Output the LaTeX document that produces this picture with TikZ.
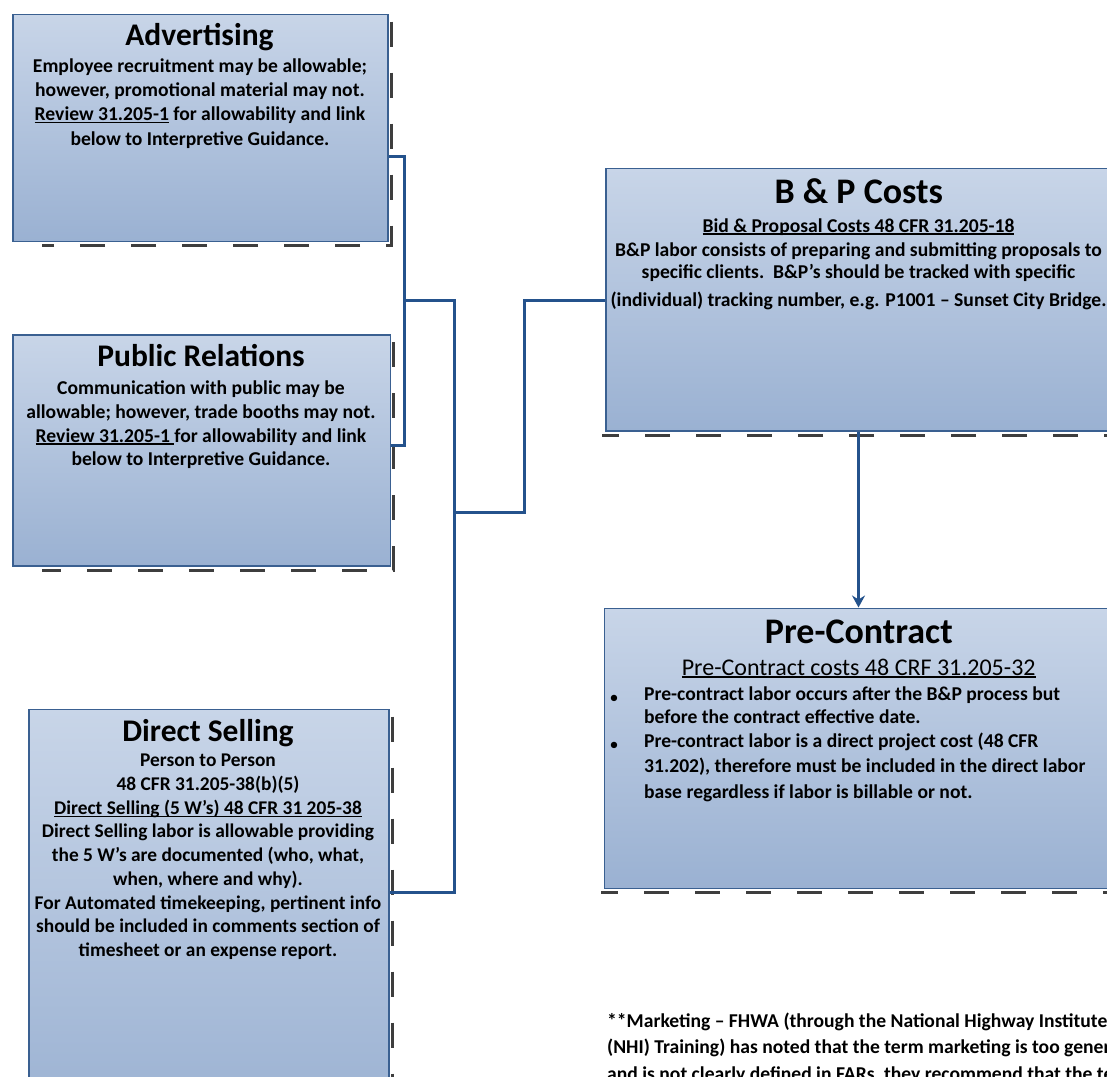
\documentclass[tikz,border=0pt]{standalone}
\usepackage{fontspec}
\setmainfont{Carlito}
\usetikzlibrary{arrows.meta}
\definecolor{boxtop}{RGB}{200,213,232}
\definecolor{boxbot}{RGB}{154,177,210}
\definecolor{boxline}{RGB}{58,96,145}
\definecolor{connblue}{RGB}{36,82,140}
\definecolor{shadowgray}{RGB}{62,62,62}
\newcommand{\undl}[1]{\setbox0\hbox{#1}\leavevmode\rlap{\rule[-2.6pt]{\wd0}{1.3pt}}\box0\relax}
\begin{document}
\begin{tikzpicture}[x=1pt,y=-1pt,
  boxnode/.style={draw=boxline, line width=1.5pt, top color=boxtop, bottom color=boxbot, inner sep=0pt, anchor=north west},
  shadowline/.style={draw=shadowgray, line width=3pt, dash pattern=on 25pt off 26pt},
  conn/.style={draw=connblue, line width=3pt},
  titleL/.style={font=\fontsize{31.5}{37}\selectfont\bfseries, inner sep=0pt, anchor=base},
  titleR/.style={font=\fontsize{36}{42}\selectfont\bfseries, inner sep=0pt, anchor=base},
  body/.style={font=\fontsize{19.6}{23.7}\selectfont\bfseries, align=center, inner sep=0pt, anchor=base},
  bodyL/.style={font=\fontsize{19.6}{23.7}\selectfont\bfseries, align=left, inner sep=0pt, anchor=base west},
]
\useasboundingbox (0,0) rectangle (1107,1076);
\clip (0,0) rectangle (1107,1076);

% boxes
\node[boxnode, minimum width=375pt, minimum height=227pt] (adv) at (12,13.5) {};
\node[boxnode, minimum width=377.5pt, minimum height=231pt] (pr) at (12,334) {};
\node[boxnode, minimum width=360pt, minimum height=420pt] (ds) at (28,708.5) {};
\node[boxnode, minimum width=520pt, minimum height=262.5pt] (bp) at (605,167.5) {};
\node[boxnode, minimum width=520pt, minimum height=280pt] (pc) at (603.5,607.5) {};

% shadows
\draw[shadowline] ([xshift=2.5pt,yshift=-8pt]adv.north east) -- ([xshift=2.5pt,yshift=-3.5pt]adv.south east) -- ([xshift=30pt,yshift=-3.5pt]adv.south west);
\draw[shadowline] ([xshift=2.5pt,yshift=-8pt]pr.north east) -- ([xshift=2.5pt,yshift=-3.5pt]pr.south east) -- ([xshift=30pt,yshift=-3.5pt]pr.south west);
\draw[shadowline] ([xshift=2.5pt,yshift=-8pt]ds.north east) -- ([xshift=2.5pt,yshift=-3.5pt]ds.south east);
\draw[shadowline] ([xshift=2.5pt,yshift=-3.5pt]bp.south east) -- ([xshift=-3pt,yshift=-3.5pt]bp.south west);
\draw[shadowline] ([xshift=2.5pt,yshift=-3.5pt]pc.south east) -- ([xshift=-3pt,yshift=-3.5pt]pc.south west);

% texts: Advertising (multi-line nodes are placed by the baseline of their last line)
\node[titleL] (advt) at (199.5,45) {Advertising};
\node[body, font=\fontsize{19.6}{24.3}\selectfont\bfseries] (advb) at (200,145) {Employee recruitment may be allowable;\\however, promotional material may not.\\\undl{Review 31.205-1} for allowability and link\\below to Interpretive Guidance.};

% Public Relations
\node[titleL] (prt) at (201,366.7) {Public Relations};
\node[body, font=\fontsize{19.6}{23.6}\selectfont\bfseries] (prb) at (201,465.7) {Communication with public may be\\allowable; however, trade booths may not.\\\undl{Review 31.205-1\ }for allowability and link\\below to Interpretive Guidance.};

% Direct Selling
\node[titleL] (dst) at (208,741.7) {Direct Selling};
\node[body, font=\fontsize{19.4}{23.75}\selectfont\bfseries] (dsb) at (208,956.7) {Person to Person\\48 CFR 31.205-38(b)(5)\\\undl{Direct Selling (5 W’s) 48 CFR 31 205-38}\\Direct Selling labor is allowable providing\\the 5 W’s are documented (who, what,\\when, where and why).\\For Automated timekeeping, pertinent info\\should be included in comments section of\\timesheet or an expense report.};

% B & P Costs
\node[titleR] (bpt) at (858.8,203) {B \& P Costs};
\node[body] (bpb) at (858.5,306.7) {\undl{Bid \& Proposal Costs 48 CFR 31.205-18}\\[0.3pt]B\&P labor consists of preparing and submitting proposals to\\[-1.7pt]specific clients.\ \ B\&P’s should be tracked with specific\\[5pt](individual) tracking number, e.g. P1001 – Sunset City Bridge.};

% Pre-Contract
\node[titleR] (pct) at (858.8,643) {Pre-Contract};
\node[inner sep=0pt, anchor=base, font=\fontsize{24}{29}\selectfont] (pcs) at (858.7,675) {\undl{Pre-Contract costs 48 CRF 31.205-32}};
\node[inner sep=0pt, anchor=base, font=\fontsize{18}{20}\selectfont] (pcd1) at (614,703) {•};
\node[inner sep=0pt, anchor=base, font=\fontsize{18}{20}\selectfont] (pcd2) at (614,750) {•};
\node[bodyL] (pcb) at (644,798) {Pre-contract labor occurs after the B\&P process but\\[-0.7pt]before the contract effective date.\\[0.3pt]Pre-contract labor is a direct project cost (48 CFR\\[1.3pt]31.202), therefore must be included in the direct labor\\[2.3pt]base regardless if labor is billable or not.};

% Marketing note
\node[bodyL, font=\fontsize{19.6}{26.5}\selectfont\bfseries] (mk) at (607,1080) {**Marketing – FHWA (through the National Highway Institute\\(NHI) Training) has noted that the term marketing is too general\\and is not clearly defined in FARs, they recommend that the term};

% connectors
\coordinate (ja) at (404.5,156.5);
\coordinate (jb) at (404.5,445);
\coordinate (jc) at (404.5,300);
\coordinate (jd) at (454.5,300);
\coordinate (je) at (454.5,892);
\coordinate (jf) at (454.5,512);
\coordinate (jg) at (524.5,512);
\coordinate (jh) at (524.5,300);
\coordinate (ax) at (858.5,0);
\draw[conn] (adv.east |- ja) -- (ja) -- (jb) -- (pr.east |- jb);
\draw[conn] (jc) -- (jd) -- (je) -- (ds.east |- je);
\draw[conn] (jf) -- (jg) -- (jh) -- (bp.west |- jh);
\draw[conn, line width=2.5pt, -{Stealth[length=12pt,width=13pt,inset=4pt]}] (bp.south -| ax) -- (pc.north -| ax);
\end{tikzpicture}
\end{document}
